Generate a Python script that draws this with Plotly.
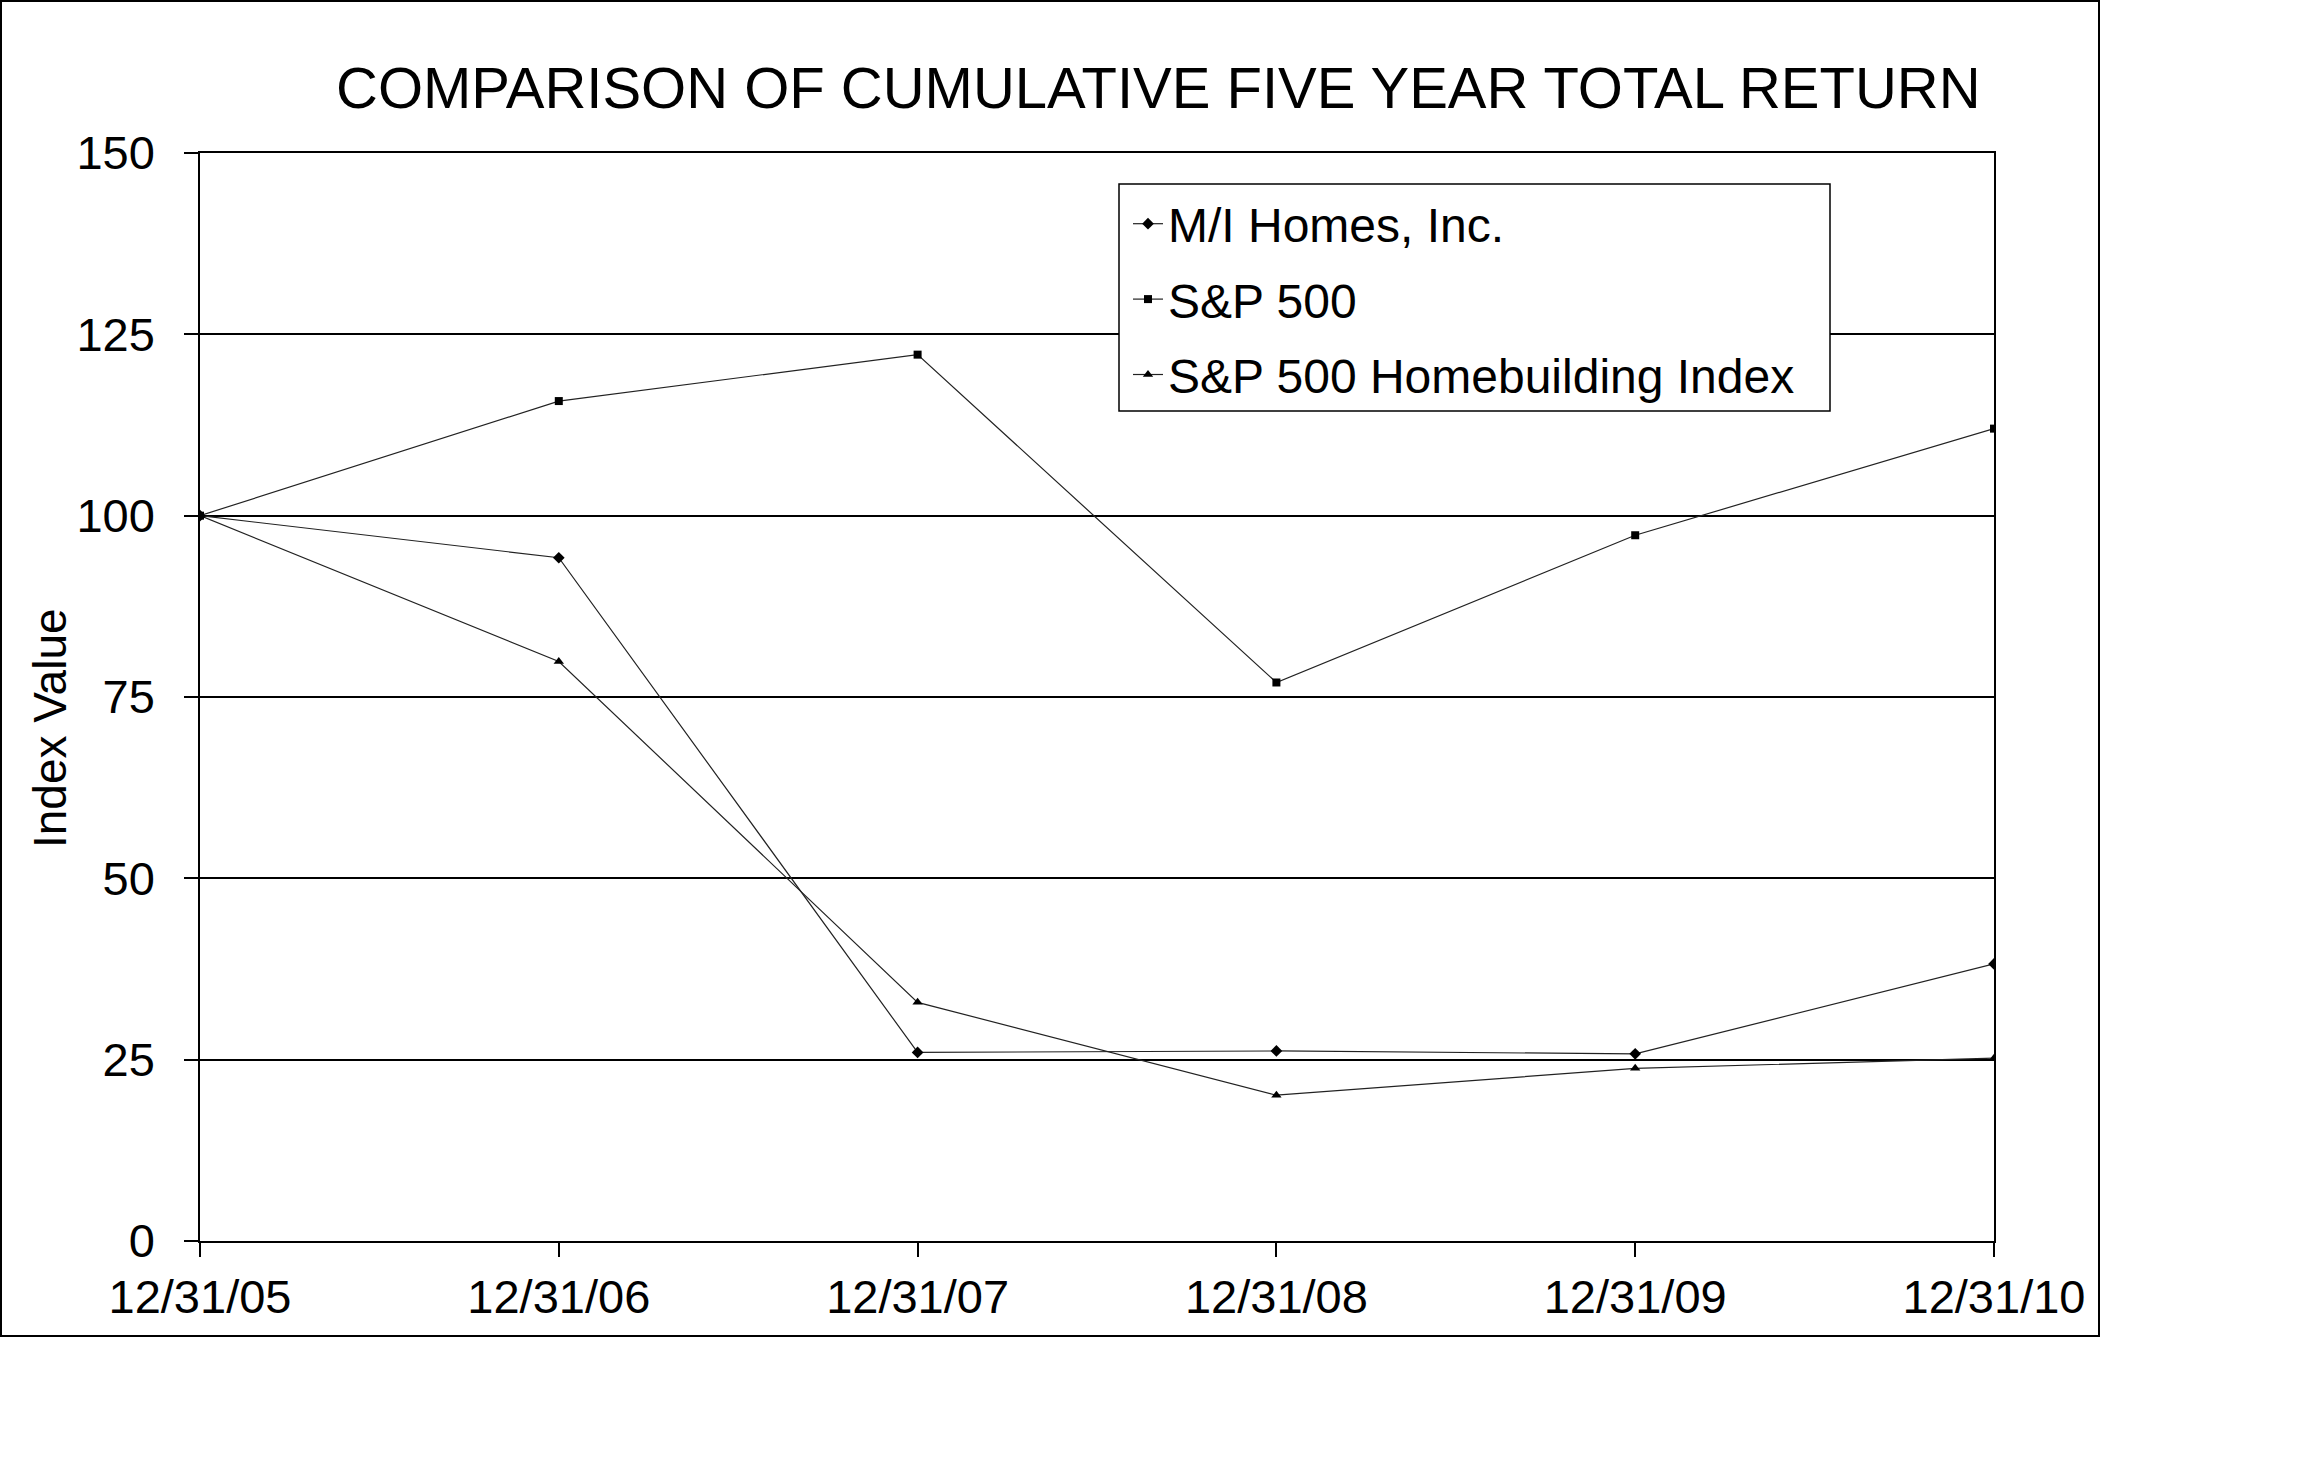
import plotly.graph_objects as go

dates = ["12/31/05", "12/31/06", "12/31/07", "12/31/08", "12/31/09", "12/31/10"]
mi_homes = [100, 94.2, 26.0, 26.2, 25.8, 38.2]
sp500 = [100, 115.8, 122.2, 77.0, 97.3, 112.0]
homebuilding = [100, 79.9, 32.9, 20.1, 23.8, 25.2]
y_ticks = [0, 25, 50, 75, 100, 125, 150]

FONT = "Liberation Sans, Arial, sans-serif"
W, H = 2309, 1471
PL, PR, PT, PB = 200, 1994, 153, 1241
L, R, T, B = PL, W - PR, PT, H - PB
pw, ph = PR - PL, PB - PT

def px_x(sx):
    return (sx - PL) / pw

def px_y(sy):
    return (PB - sy) / ph

fig = go.Figure()
series = [
    ("M/I Homes, Inc.", mi_homes, "diamond", 9),
    ("S&P 500", sp500, "square", 8),
    ("S&P 500 Homebuilding Index", homebuilding, "triangle-up", 9),
]
for i, (name, vals, sym, sz) in enumerate(series):
    fig.add_trace(go.Scatter(
        x=dates, y=vals, name=name, mode="lines+markers",
        line=dict(color="#222222", width=1.2),
        marker=dict(symbol=sym, size=sz, color="black"),
        legendgroup=f"g{i}",
    ))

fig.update_layout(
    width=W, height=H,
    margin=dict(l=L, r=R, t=T, b=B, autoexpand=False),
    paper_bgcolor="white", plot_bgcolor="white",
    font=dict(family=FONT, size=47, color="black"),
    showlegend=True,
    legend=dict(
        x=px_x(1128), y=px_y(186),
        xanchor="left", yanchor="top",
        borderwidth=0, bgcolor="rgba(0,0,0,0)",
        font=dict(size=48, family=FONT),
        tracegroupgap=10, itemwidth=30,
    ),
    xaxis=dict(
        type="category", range=[0, 5],
        showgrid=False, showline=True, linecolor="black", linewidth=1.5,
        mirror=True,
        ticks="outside", ticklen=14, tickcolor="black", tickwidth=1.5,
        tickfont=dict(size=47, family=FONT),
        zeroline=False,
    ),
    yaxis=dict(
        range=[0, 150], tickvals=y_ticks,
        showgrid=True, gridcolor="black", gridwidth=1.5,
        showline=True, linecolor="black", linewidth=1.5, mirror=True,
        ticks="outside", ticklen=14, tickcolor="black", tickwidth=1.5,
        tickfont=dict(size=47, family=FONT),
        zeroline=False,
        ticklabelstandoff=20,
    ),
    annotations=[
        dict(text="COMPARISON OF CUMULATIVE FIVE YEAR TOTAL RETURN",
             xref="paper", yref="paper",
             x=px_x(1158), y=px_y(87),
             xanchor="center", yanchor="middle", showarrow=False,
             font=dict(size=58, family=FONT, color="black")),
        dict(text="Index Value", textangle=-90,
             xref="paper", yref="paper",
             x=px_x(50), y=px_y(728),
             xanchor="center", yanchor="middle", showarrow=False,
             font=dict(size=46, family=FONT, color="black")),
    ],
    shapes=[
        dict(type="rect", xref="paper", yref="paper",
             x0=px_x(1), x1=px_x(2099),
             y0=px_y(1336), y1=px_y(1),
             line=dict(color="black", width=2), layer="below"),
        dict(type="rect", xref="paper", yref="paper",
             x0=px_x(1119), x1=px_x(1830),
             y0=px_y(411), y1=px_y(184),
             line=dict(color="black", width=1.5), fillcolor="white",
             layer="above"),
    ],
)

fig.write_html("out.html",
               config={"displayModeBar": False},
               post_script="document.body.style.margin='0';document.body.style.padding='0';")
